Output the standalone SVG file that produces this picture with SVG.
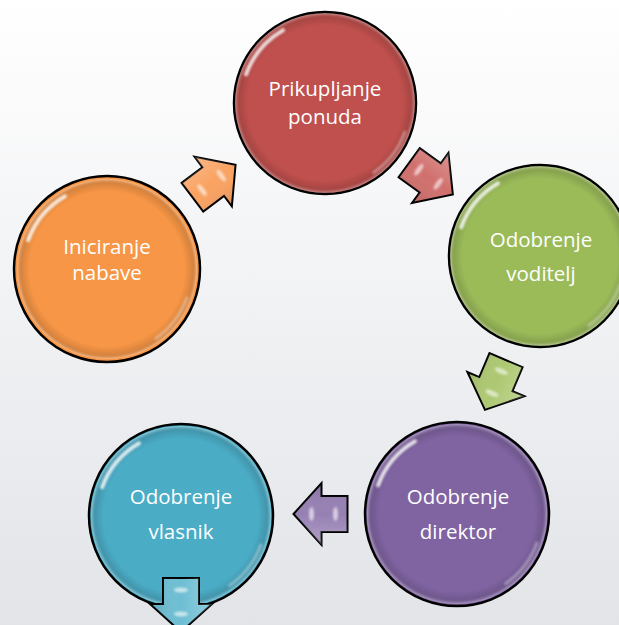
<svg xmlns="http://www.w3.org/2000/svg" xmlns:xlink="http://www.w3.org/1999/xlink" width="619" height="625" viewBox="0 0 619 625">
<style>
.lbl{font-family:"Open Sans","Noto Sans","Liberation Sans",sans-serif;font-size:20.5px;fill:#ffffff;text-anchor:middle}
.ring{stroke:#000;stroke-width:2.5}
.arr{stroke:#000;stroke-width:2;stroke-linejoin:miter}
</style>
<defs>
<linearGradient id="bg" x1="0" y1="0" x2="0" y2="1">
<stop offset="0" stop-color="#ffffff"/>
<stop offset="1" stop-color="#e2e4e8"/>
</linearGradient>
<radialGradient id="rimShade" cx="0.5" cy="0.5" r="0.5">
<stop offset="0.86" stop-color="#000" stop-opacity="0"/>
<stop offset="0.95" stop-color="#000" stop-opacity="0.12"/>
<stop offset="1" stop-color="#fff" stop-opacity="0.35"/>
</radialGradient>
<linearGradient id="arrShade" x1="0" y1="0" x2="0" y2="1">
<stop offset="0" stop-color="#fff" stop-opacity="0.25"/>
<stop offset="0.5" stop-color="#fff" stop-opacity="0"/>
<stop offset="1" stop-color="#000" stop-opacity="0.12"/>
</linearGradient>
<filter id="soft" x="-50%" y="-50%" width="200%" height="200%">
<feGaussianBlur stdDeviation="1.2"/>
</filter>
<g id="gloss">
<circle r="90" fill="url(#rimShade)"/>
<path d="M -78.9 -28.7 A 84 84 0 0 1 -42 -72.7" fill="none" stroke="#fff" stroke-width="4" stroke-linecap="round" opacity="0.8" filter="url(#soft)"/>
<path d="M 79.9 29.1 A 85 85 0 0 1 48.8 69.6" fill="none" stroke="#fff" stroke-width="3" stroke-linecap="round" opacity="0.35" filter="url(#soft)"/>
</g>
<polygon id="arrowShape" points="-27,-18 -1,-18 -1,-31 27,0 -1,31 -1,18 -27,18"/>
<g id="arrowGlint">
<polygon points="-27,-18 -1,-18 -1,-31 27,0 -1,31 -1,18 -27,18" fill="url(#arrShade)"/>
<ellipse cx="-15" cy="0" rx="2.5" ry="7" fill="#fff" opacity="0.6" filter="url(#soft)"/>
<ellipse cx="9" cy="0" rx="2.5" ry="7" fill="#fff" opacity="0.6" filter="url(#soft)"/>
</g>
</defs>
<rect width="619" height="625" fill="url(#bg)"/>
<g id="node-prikupljanje">
<circle cx="325" cy="103" r="91" fill="#C0504D" class="ring"/>
<use xlink:href="#gloss" transform="translate(325,103)"/>
<text class="lbl" x="325" y="96">Prikupljanje</text>
<text class="lbl" x="325" y="124">ponuda</text>
</g>
<g id="node-voditelj">
<circle cx="540" cy="256" r="91" fill="#9BBB59" class="ring"/>
<use xlink:href="#gloss" transform="translate(540,256)"/>
<text class="lbl" x="541" y="247">Odobrenje</text>
<text class="lbl" x="541" y="281">voditelj</text>
</g>
<g id="node-direktor">
<circle cx="457" cy="514" r="92" fill="#8064A2" class="ring"/>
<use xlink:href="#gloss" transform="translate(457,514)"/>
<text class="lbl" x="458" y="504">Odobrenje</text>
<text class="lbl" x="458" y="539">direktor</text>
</g>
<g id="node-vlasnik">
<circle cx="181" cy="516" r="92" fill="#4BACC6" class="ring"/>
<use xlink:href="#gloss" transform="translate(181,516)"/>
<text class="lbl" x="181" y="504">Odobrenje</text>
<text class="lbl" x="181" y="539">vlasnik</text>
</g>
<g id="node-iniciranje">
<circle cx="107" cy="269" r="93" fill="#F79646" class="ring"/>
<use xlink:href="#gloss" transform="translate(107,269)"/>
<text class="lbl" x="107" y="254">Iniciranje</text>
<text class="lbl" x="107" y="280">nabave</text>
</g>
<g id="connectors">
<g transform="translate(214,181) rotate(-37)">
<use xlink:href="#arrowShape" fill="#F9A261" class="arr"/>
<use xlink:href="#arrowGlint"/>
</g>
<g transform="translate(431,178.5) rotate(36)">
<use xlink:href="#arrowShape" fill="#D0706D" class="arr"/>
<use xlink:href="#arrowGlint"/>
</g>
<g transform="translate(495.5,385) rotate(113)">
<use xlink:href="#arrowShape" fill="#ADC872" class="arr"/>
<use xlink:href="#arrowGlint"/>
</g>
<g transform="translate(320.5,514) rotate(180)">
<use xlink:href="#arrowShape" fill="#9680B3" class="arr"/>
<use xlink:href="#arrowGlint"/>
</g>
<g transform="translate(181,605) rotate(90)">
<use xlink:href="#arrowShape" fill="#6EBED3" class="arr"/>
<use xlink:href="#arrowGlint"/>
</g>
</g>
</svg>
